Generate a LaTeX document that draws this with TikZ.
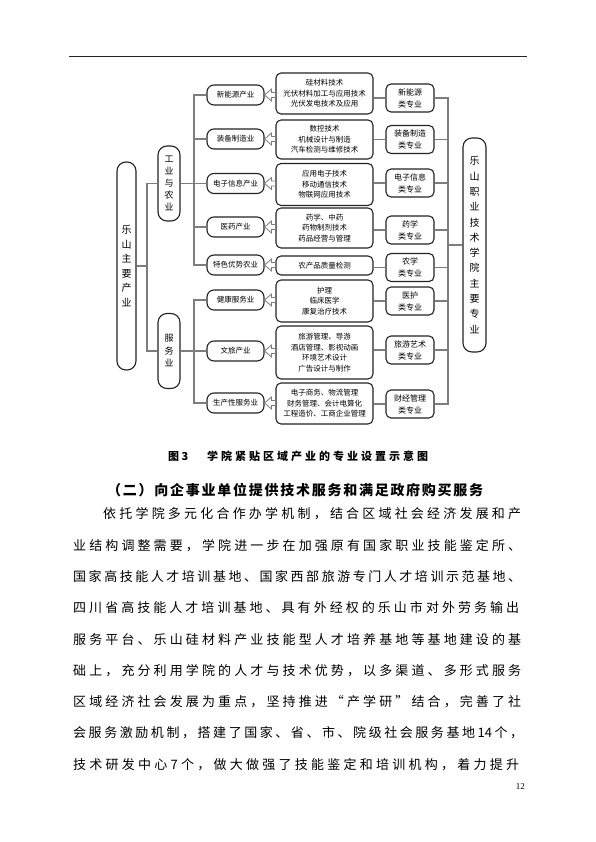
\documentclass[tikz,border=0pt]{standalone}
\usepackage{fontspec}
\setmainfont{Noto Sans CJK SC}
\newfontfamily\pagenumfont{Liberation Serif}
\usetikzlibrary{calc}

\definecolor{linegray}{RGB}{125,125,125}
\definecolor{boxline}{RGB}{35,35,35}

% spread the characters of a line evenly over a given width
\makeatletter
\newcommand\spreadchars[1]{\let\spreadsep\relax\@tfor\spreadtok:=#1\do{\spreadsep\spreadtok\let\spreadsep\hfill}}
\makeatother
\newcommand\textline[2]{\makebox[#1][l]{\spreadchars{#2}}}

\begin{document}
\begin{tikzpicture}[
    x=1pt, y=-1pt,
    link/.style={draw=linegray, line width=1.2pt},
    hollow/.style={draw=linegray, fill=white, line width=0.8pt, line join=miter},
    ind/.style={rectangle, draw=boxline, line width=1.1pt, fill=white, rounded corners=7pt, minimum width=57pt, minimum height=20pt, inner sep=1pt, font=\fontsize{7.5}{9}\selectfont},
    tech/.style={rectangle, draw=boxline, line width=1.1pt, fill=white, rounded corners=5pt, minimum width=97pt, inner sep=1pt, align=center, font=\fontsize{7.5}{10.5}\selectfont},
    major/.style={rectangle, draw=boxline, line width=1.1pt, fill=white, rounded corners=5pt, minimum width=48pt, minimum height=28pt, inner sep=1pt, align=center, font=\fontsize{8}{12}\selectfont},
    tall/.style={rectangle, draw=boxline, line width=1.1pt, fill=white, rounded corners=9pt, inner sep=0pt, align=center},
    para/.style={anchor=west, inner sep=0pt, font=\fontsize{13}{13}\selectfont}
]
\useasboundingbox (0,0) rectangle (596,842);

% header rule
\draw[line width=0.9pt, boxline] (69,56) -- (527,56);

% left column
\node[tall, minimum width=19pt, minimum height=208pt, font=\fontsize{10}{14.5}\selectfont] (main) at (126.5,266) {乐\\山\\主\\要\\产\\业};
\node[tall, minimum width=22pt, minimum height=75pt, font=\fontsize{9}{12}\selectfont] (indag) at (169,183.5) {工\\业\\与\\农\\业};
\node[tall, minimum width=22pt, minimum height=75pt, font=\fontsize{9}{12.5}\selectfont] (serv) at (169,351) {服\\务\\业};

% industries
\foreach \n/\y/\t in {1/95/新能源产业, 2/139/装备制造业, 3/183.5/电子信息产业, 4/227/医药产业,
    5/265/特色优势农业, 6/300/健康服务业, 7/351/文旅产业, 8/403/生产性服务业}
  \node[ind] (I\n) at (235.5,\y) {\t};

% technologies
\foreach \n/\y/\h/\t in {1/93.5/41/{硅材料技术\\光伏材料加工与应用技术\\光伏发电技术及应用},
    2/139.5/39/{数控技术\\机械设计与制造\\汽车检测与维修技术},
    3/184.5/42/{应用电子技术\\移动通信技术\\物联网应用技术},
    4/228/40/{药学、中药\\药物制剂技术\\药品经营与管理},
    5/265.5/19/{农产品质量检测},
    6/301/42/{护理\\临床医学\\康复治疗技术},
    7/352.5/53/{旅游管理、导游\\酒店管理、影视动画\\环境艺术设计\\广告设计与制作},
    8/403.5/41/{电子商务、物流管理\\财务管理、会计电算化\\工程造价、工商企业管理}}
  \node[tech, minimum height=\h pt] (T\n) at (324.5,\y) {\t};

% majors
\foreach \n/\y/\t in {1/98/{新能源\\类专业}, 2/139.5/{装备制造\\类专业}, 3/183/{电子信息\\类专业},
    4/230/{药学\\类专业}, 5/267.5/{农学\\类专业}, 6/301/{医护\\类专业},
    7/350/{旅游艺术\\类专业}, 8/404/{财经管理\\类专业}}
  \node[major] (M\n) at (410,\y) {\t};

\node[tall, minimum width=23pt, minimum height=214pt, font=\fontsize{10}{15.3}\selectfont] (college) at (474.5,245) {乐\\山\\职\\业\\技\\术\\学\\院\\主\\要\\专\\业};

% tree lines
\coordinate (mainbus) at (147,266);
\draw[link] (main.east) -- (mainbus);
\draw[link] (indag.west) -| (mainbus) |- (serv.west);

\coordinate (indbus) at (194,183.5);
\draw[link] (I1.west) -| (indbus) |- (I5.west);
\foreach \n in {2,3,4} \draw[link] (I\n.west) -- (I\n.west -| indbus);
\draw[link] (indag.east) -- (indbus);

\coordinate (servbus) at (194,351);
\draw[link] (I6.west) -| (servbus) |- (I8.west);
\draw[link] (I7.west) -- (servbus);
\draw[link] (serv.east) -- (servbus);

\foreach \n in {1,...,8} \draw[link] (T\n.east |- M\n.west) -- (M\n.west);

\coordinate (majbus) at (448,245);
\draw[link] (M1.east) -| (majbus) |- (M8.east);
\foreach \n in {2,...,7} \draw[link] (M\n.east) -- (M\n.east -| majbus);
\draw[link] (majbus) -- (college.west);

% hollow arrows, technology -> industry
\foreach \k in {1,...,8}
  \draw[hollow] let \p1=(T\k.west), \p2=(I\k.east) in
    (\x2,\y2) -- (\x2+7pt,\y2+6pt) -- (\x2+7pt,\y2+2.5pt) -- (\x1,\y2+2.5pt)
    -- (\x1,\y2-2.5pt) -- (\x2+7pt,\y2-2.5pt) -- (\x2+7pt,\y2-6pt) -- cycle;

% caption and heading
\node[anchor=west, inner sep=0pt, font=\fontsize{11}{11}\selectfont\bfseries] (caption) at (168,456)
  {\makebox[39pt][l]{图 3}\textline{221pt}{学院紧贴区域产业的专业设置示意图}};
\node[para, font=\fontsize{14}{14}\selectfont\bfseries] (heading) at (107,490)
  {\textline{376pt}{（二）向企事业单位提供技术服务和满足政府购买服务}};

% body text
\node[para] (line1) at (103,514) {\textline{418pt}{依托学院多元化合作办学机制，结合区域社会经济发展和产}};
\node[para] (line2) at (73,545.3) {\textline{448pt}{业结构调整需要，学院进一步在加强原有国家职业技能鉴定所、}};
\node[para] (line3) at (73,576.6) {\textline{448pt}{国家高技能人才培训基地、国家西部旅游专门人才培训示范基地、}};
\node[para] (line4) at (73,607.9) {\textline{446pt}{四川省高技能人才培训基地、具有外经权的乐山市对外劳务输出}};
\node[para] (line5) at (73,639.2) {\textline{448pt}{服务平台、乐山硅材料产业技能型人才培养基地等基地建设的基}};
\node[para] (line6) at (73,670.5) {\textline{448pt}{础上，充分利用学院的人才与技术优势，以多渠道、多形式服务}};
\node[para] (line7) at (73,701.8) {\textline{448pt}{区域经济社会发展为重点，坚持推进“产学研”结合，完善了社}};
\node[para] (line8) at (73,733.1) {\textline{450pt}{会服务激励机制，搭建了国家、省、市、院级社会服务基地{14}个，}};
\node[para] (line9) at (73,764.4) {\textline{446pt}{技术研发中心{7}个，做大做强了技能鉴定和培训机构，着力提升}};

\node[anchor=east, inner sep=0pt, font=\pagenumfont\fontsize{9}{9}\selectfont] (pagenum) at (525,787) {12};
\end{tikzpicture}
\end{document}
